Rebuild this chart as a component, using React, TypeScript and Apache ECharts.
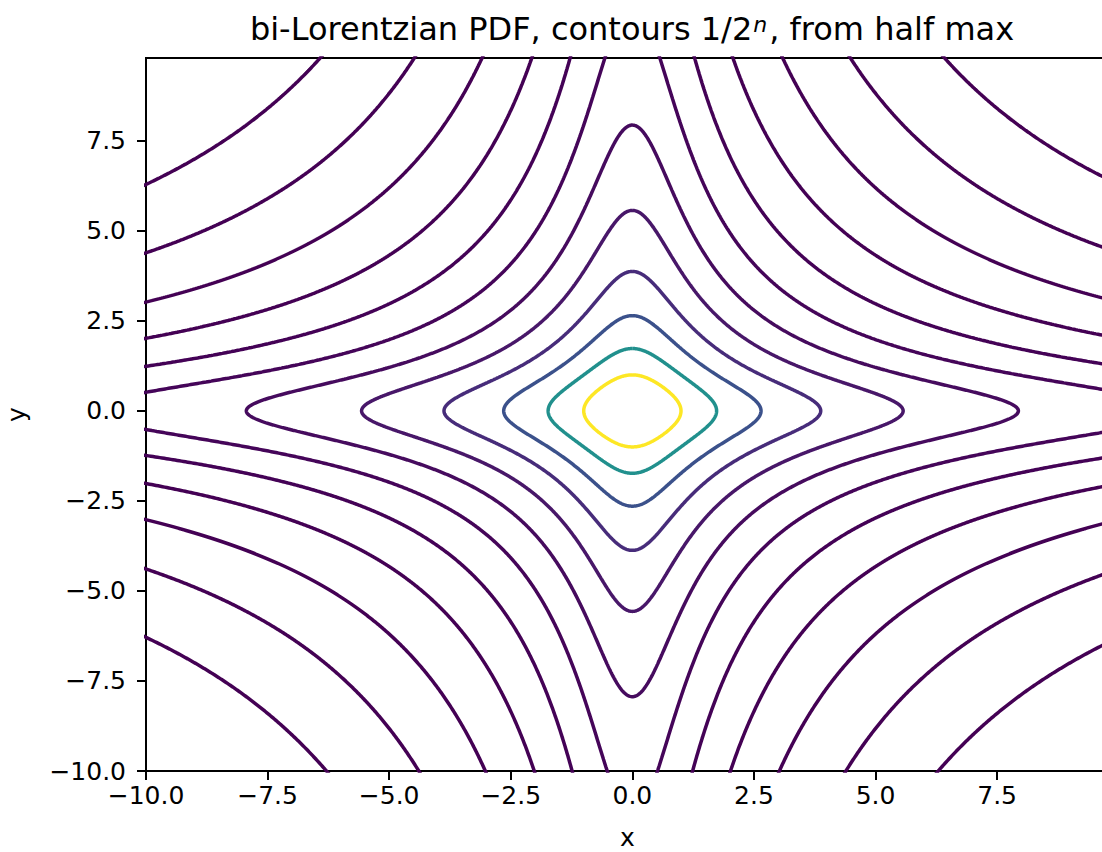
import React, { useEffect, useRef } from "react";
import * as echarts from "echarts";

// Contour levels are 1/2^n for these n (from half max outward)
const LEVEL_EXPONENTS = [1, 2, 3, 4, 5, 6, 7, 8, 9, 10, 11, 12];
// viridis colours assigned to each level (matplotlib linear norm over the levels)
const LEVEL_COLORS = [
  "#fde725",
  "#21908d",
  "#3b518b",
  "#472c7a",
  "#481769",
  "#460b5e",
  "#450559",
  "#440256",
  "#440154",
  "#440154",
  "#440154",
  "#440154",
];
const X_RANGE = [-10, 9.8];
const Y_RANGE = [-10, 9.8];
const TICK_STEP = 2.5;

const FONT = "DejaVu Sans";

// bi-Lorentzian PDF f(x,y) = 1/((1+x^2)(1+y^2)); contour f = 1/K  <=>  (1+x^2)(1+y^2) = K
function contourLoop(n: number): [number, number][] {
  const K = Math.pow(2, n);
  const xd = Math.sqrt(Math.sqrt(K) - 1);
  const N = 400;
  const q1: [number, number][] = [];
  for (let i = 0; i <= N; i++) {
    const x = (xd * i) / N;
    q1.push([x, Math.sqrt(Math.max(K / (1 + x * x) - 1, 0))]);
  }
  for (let i = N - 1; i >= 0; i--) {
    const y = (xd * i) / N;
    q1.push([Math.sqrt(Math.max(K / (1 + y * y) - 1, 0)), y]);
  }
  const out: [number, number][] = [];
  q1.forEach(([x, y]) => out.push([x, y]));
  q1.slice().reverse().forEach(([x, y]) => out.push([x, -y]));
  q1.forEach(([x, y]) => out.push([-x, -y]));
  q1.slice().reverse().forEach(([x, y]) => out.push([-x, y]));
  // overlap the start so the closed loop has no notch
  out.push(q1[1], q1[2]);
  return out;
}

const fmt = (v: number) => {
  const s = Math.abs(v).toFixed(1);
  return v < 0 ? "\u2212" + s : s;
};

export default function App() {
  const ref = useRef<HTMLDivElement>(null);
  useEffect(() => {
    if (!ref.current) return;
    const chart = echarts.init(ref.current, null, { renderer: "svg" });
    const axisCommon = {
      type: "value" as const,
      interval: TICK_STEP,
      splitLine: { show: false },
      axisLine: { show: true, onZero: false, lineStyle: { color: "#000", width: 2 } },
      axisTick: { show: true, inside: false, length: 9, lineStyle: { color: "#000", width: 2 } },
      nameTextStyle: { color: "#000", fontSize: 25, fontFamily: FONT, lineHeight: 24 },
      nameLocation: "middle" as const,
    };
    const labelCommon = {
      formatter: fmt,
      color: "#000",
      fontSize: 25,
      fontFamily: FONT,
      showMaxLabel: false,
      showMinLabel: true,
    };
    chart.setOption({
      animation: false,
      backgroundColor: "#fff",
      title: {
        text: "{a|bi-Lorentzian PDF, contours 1/2}{s|n}{a|, from half max}",
        left: 627,
        top: 8,
        textAlign: "center",
        textStyle: {
          fontWeight: "normal",
          rich: {
            a: { fontSize: 32, fontFamily: FONT, color: "#000", fontWeight: "normal" },
            s: {
              fontSize: 22,
              fontStyle: "italic",
              fontFamily: FONT,
              fontWeight: "normal",
              color: "#000",
              verticalAlign: "top",
              padding: [0, 2, 10, 1],
            },
          },
        },
      },
      grid: {
        left: 146,
        top: 58,
        width: 963,
        height: 713,
        show: true,
        borderColor: "#000",
        borderWidth: 2,
        backgroundColor: "transparent",
        outerBoundsMode: "none",
        containLabel: false,
      },
      xAxis: {
        ...axisCommon,
        min: X_RANGE[0],
        max: X_RANGE[1],
        name: "x",
        nameGap: 54,
        axisLabel: { ...labelCommon, margin: 12 },
      },
      yAxis: {
        ...axisCommon,
        min: Y_RANGE[0],
        max: Y_RANGE[1],
        name: "y",
        nameGap: 118,
        axisLabel: { ...labelCommon, margin: 20 },
      },
      series: LEVEL_EXPONENTS.map((n, i) => ({
        type: "line",
        name: "1/2^" + n,
        data: contourLoop(n),
        showSymbol: false,
        symbol: "none",
        clip: true,
        smooth: false,
        silent: true,
        lineStyle: { color: LEVEL_COLORS[i], width: 3.5 },
        z: 2 + (LEVEL_EXPONENTS.length - i),
      })),
    });
    return () => chart.dispose();
  }, []);
  return (
    <div style={{ position: "fixed", left: 0, top: 0, width: 1102, height: 852, overflow: "hidden", background: "#fff" }}>
      <div ref={ref} style={{ width: 1124, height: 852 }} />
    </div>
  );
}
